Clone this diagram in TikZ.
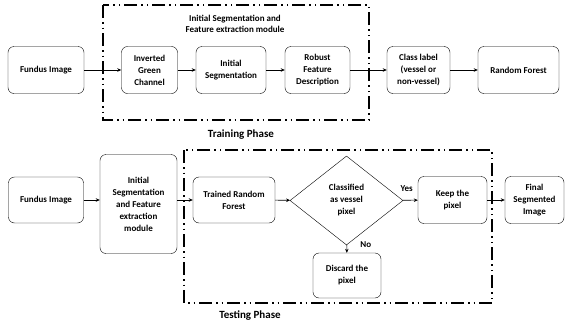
\documentclass[tikz,border=0pt]{standalone}
\usepackage{fontspec}
\setmainfont{Carlito}
\usetikzlibrary{arrows.meta, positioning, shapes.geometric}
\tikzset{%
	stage/.style={
		draw,
		rounded corners=6pt,
		align=center,
		inner sep=2pt,
		minimum height=47pt,
		font=\bfseries\fontsize{9}{12}\selectfont
	},
	decision/.style={
		draw,
		diamond,
		align=center,
		inner sep=0pt,
		minimum width=113pt,
		minimum height=89pt,
		font=\bfseries\fontsize{9}{12}\selectfont
	},
	module frame/.style={
		line width=1.5pt,
		dash pattern=on 13pt off 4pt on 1.5pt off 4pt on 1.5pt off 4pt
	},
	flow/.style={-{Stealth[length=4pt,width=3.5pt]}, semithick},
	caption/.style={align=center, font=\bfseries\fontsize{9}{11}\selectfont},
	phase/.style={font=\bfseries\fontsize{11}{12}\selectfont},
}
\begin{document}
\begin{tikzpicture}[x=1pt, y=-1pt]
	\useasboundingbox (0,0) rectangle (566,327);
	
	% training phase
	\draw[module frame] (103,5) rectangle (369,120);
	\node[caption] (modtitle) at (235,24) {Initial Segmentation and\\Feature extraction module};
	\node[phase] (trainphase) at (241,135) {Training Phase};
	
	\node[stage, minimum width=76pt] (fundus) at (46,70) {Fundus Image};
	\node[stage, minimum width=56pt] (green) at (149.5,70) {Inverted\\Green\\Channel};
	\node[stage, minimum width=70pt] (initseg) at (231,70) {Initial\\Segmentation};
	\node[stage, minimum width=65pt] (robust) at (317.5,70) {Robust\\Feature\\Description};
	\node[stage, minimum width=63pt] (classlbl) at (418.5,70) {Class label\\(vessel or\\non-vessel)};
	\node[stage, minimum width=81pt] (forest) at (518.5,70) {Random Forest};
	
	\draw[flow] (fundus) -- (green);
	\draw[flow] (green) -- (initseg);
	\draw[flow] (initseg) -- (robust);
	\draw[flow] (robust) -- (classlbl);
	\draw[flow] (classlbl) -- (forest);
	
	% testing phase
	\draw[module frame] (184,150) rectangle (492,303);
	\node[phase] (testphase) at (250,316) {Testing Phase};
	
	\node[stage, minimum width=75pt, minimum height=46pt] (fundus2) at (46,200) {Fundus Image};
	\node[stage, minimum width=77pt, minimum height=99pt] (module) at (138.5,204) {Initial\\Segmentation\\and Feature\\extraction\\module};
	\node[stage, minimum width=82pt, minimum height=46pt] (trained) at (234,200) {Trained Random\\Forest};
	\node[decision] (decide) at (346.5,200.5) {Classified\\as vessel\\pixel};
	\node[stage, minimum width=69pt] (keep) at (452.5,200) {Keep the\\pixel};
	\node[stage, minimum width=59pt] (final) at (534.5,200) {Final\\Segmented\\Image};
	\node[stage, minimum width=68pt, minimum height=45pt] (discard) at (347,275.5) {Discard the\\pixel};
	
	\draw[flow] (fundus2) -- (module.west |- fundus2.east);
	\draw[flow] (module.east |- trained.west) -- (trained.west);
	\draw[flow] (trained) -- (decide);
	\draw[flow] (decide) -- node[caption, pos=0.25, above=5pt] (yes) {Yes} (keep);
	\draw[flow] (decide) -- node[caption, pos=0, right=10pt] (no) {No} (discard);
	\draw[flow] (keep) -- (final);
	
\end{tikzpicture}
\end{document}
